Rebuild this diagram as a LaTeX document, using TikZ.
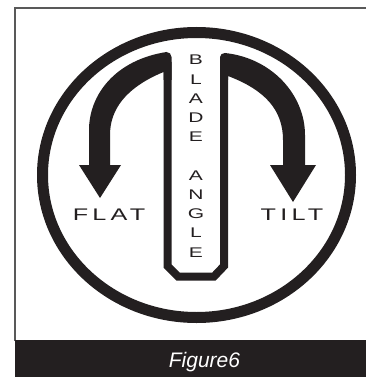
\documentclass[tikz,border=0pt]{standalone}
\usepackage{fontspec}
\setmainfont{Liberation Sans}
\newfontfamily\widefont[FakeStretch=1.5]{Liberation Sans}
\newfontfamily\trackfont[FakeStretch=1.5,LetterSpace=25]{Liberation Sans}
\definecolor{ink}{HTML}{231F20}

\begin{document}
\begin{tikzpicture}[x=1pt, y=-1pt,
  dirtext/.style={font=\trackfont\fontsize{16.8}{17}\selectfont, text=ink, anchor=base, inner sep=0pt},
  letter/.style={font=\widefont\fontsize{14}{14}\selectfont, text=ink, anchor=base, inner sep=0pt}]

  \useasboundingbox (0,0) rectangle (365,377);

  % Frame and caption bar
  \draw[gray!70!black, line width=1.2pt] (15,341) -- (15,8) -- (366,8);
  \fill[ink] (15,340) rectangle (366,377);
  \node[font=\itshape\fontsize{21}{22}\selectfont, text=white, anchor=base] (caption) at (204.5,367) {Figure6};

  % Outer ring
  \draw[ink, line width=11pt] (196.5,175) ellipse [x radius=154pt, y radius=142.5pt];

  % Stem (open U with cut corners)
  \draw[ink, line width=8pt] (167.5,62) -- (167.5,266) -- (178,276.5) -- (214,276.5) -- (224,266) -- (224,62);

  % Left arrow (FLAT)
  \fill[ink] (171.5,80) -- (171.5,57) to[out=90,in=0] (166.5,52)
    .. controls (115,60) and (89,95) .. (89,130) -- (89,165) -- (79,165) -- (100,198)
    -- (121,165) -- (110,165) -- (110,135) .. controls (110,110) and (125,88) .. (163.5,72)
    -- (163.5,80) -- cycle;

  % Right arrow (TILT)
  \fill[ink] (220,80) -- (220,57) to[out=90,in=180] (225,53)
    .. controls (272,58) and (305,95) .. (305,135) -- (305,165) -- (316,165) -- (293,202)
    -- (270,165) -- (283,165) -- (283,140) .. controls (283,110) and (265,90) .. (228,76)
    -- (228,80) -- cycle;

  % Labels
  \node[dirtext] (flat) at (109,220) {FLAT};
  \node[dirtext] (tilt) at (292,220) {TILT};
  \foreach \ch/\k in {B/0,L/1,A/2,D/3,E/4,A/6,N/7,G/8,L/9,E/10}
    \node[letter] (let\k) at (196,65+19.2*\k) {\ch};

\end{tikzpicture}
\end{document}
